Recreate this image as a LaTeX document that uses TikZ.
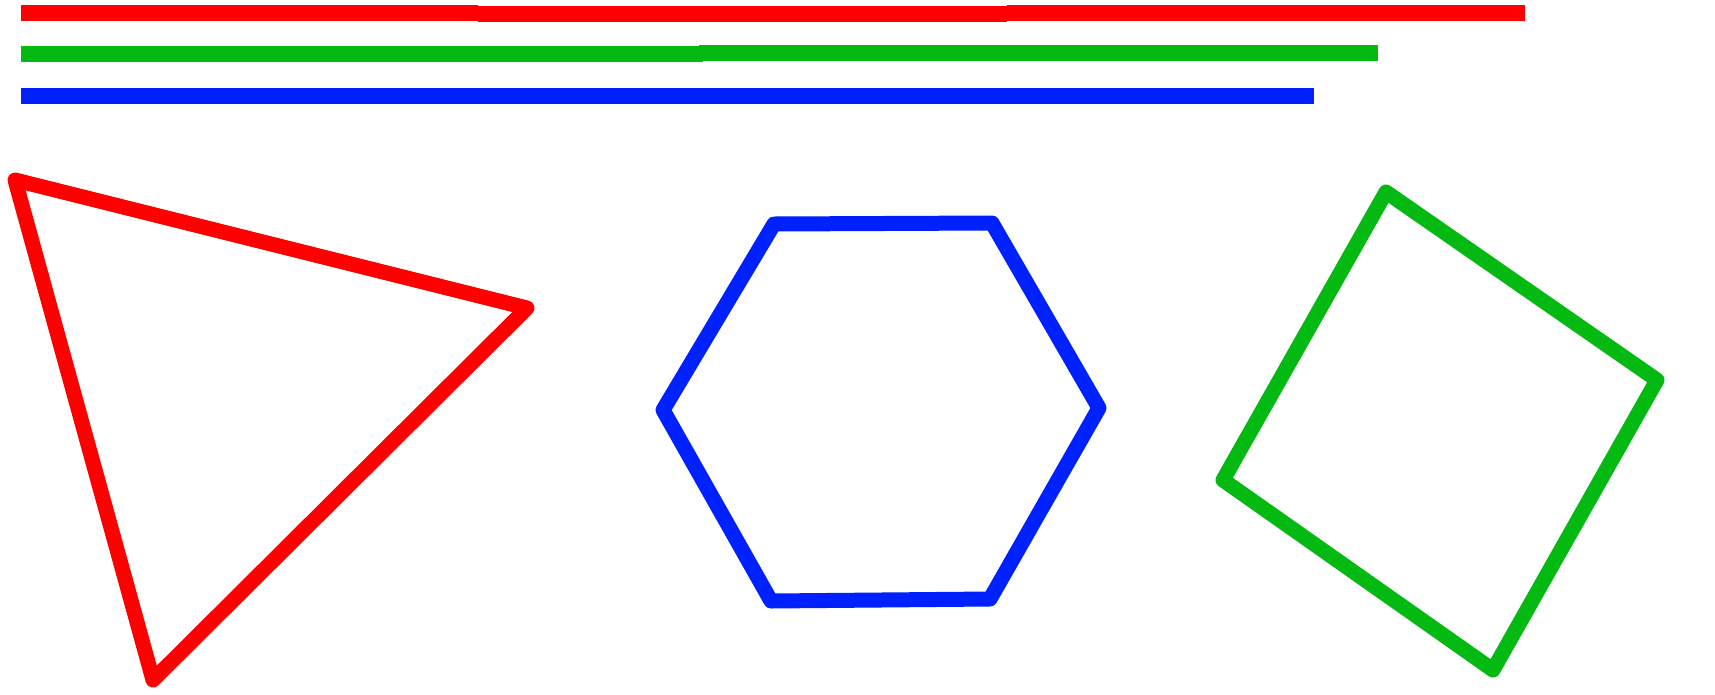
\documentclass[tikz,border=0pt]{standalone}
\usepackage{xcolor}
\definecolor{TriRed}{HTML}{FF0000}
\definecolor{QuadGreen}{HTML}{04BA12}
\definecolor{HexBlue}{HTML}{0021FF}
\tikzset{
  barseg/.style={
    line width=16pt,
    line cap=butt,
  },
  outline/.style={
    line width=15pt,
    line join=round,
    line cap=round,
  }
}
\begin{document}
\begin{tikzpicture}[x=1pt,y=-1pt]
  \useasboundingbox (0,0) rectangle (1715,694);

  % red bar
  \draw[barseg,draw=TriRed] (21,13) -- (478,13);
  \draw[barseg,draw=TriRed] (478,13.7) -- (1007,13.7);
  \draw[barseg,draw=TriRed] (1007,13) -- (1525,13);

  % green bar
  \draw[barseg,draw=QuadGreen] (21,54) -- (703,54);
  \draw[barseg,draw=QuadGreen] (699,52.7) -- (1007,52.7);
  \draw[barseg,draw=QuadGreen] (1007,53) -- (1378,53);

  % blue bar
  \draw[barseg,draw=HexBlue] (21,96) -- (214,96);
  \draw[barseg,draw=HexBlue] (214,96) -- (406,96);
  \draw[barseg,draw=HexBlue] (406,96) -- (670,96);
  \draw[barseg,draw=HexBlue] (670,96) -- (863,96);
  \draw[barseg,draw=HexBlue] (863,96) -- (1056,96);
  \draw[barseg,draw=HexBlue] (1056,96) -- (1126,96);
  \draw[barseg,draw=HexBlue] (1126,96) -- (1314,96);

  % triangle
  \coordinate (ta) at (15,180);
  \coordinate (tb) at (527,308);
  \coordinate (tc) at (153,680);
  \draw[outline,draw=TriRed] (ta) -- (tb) -- (tc) -- cycle;

  % hexagon
  \coordinate (ha) at (663,410);
  \coordinate (hb) at (774,224);
  \coordinate (hc) at (992,223);
  \coordinate (hd) at (1099,408);
  \coordinate (he) at (990,599);
  \coordinate (hf) at (771,601);
  \draw[outline,draw=HexBlue] (ha) -- (hb) -- (hc) -- (hd) -- (he) -- (hf) -- cycle;

  % square
  \coordinate (qa) at (1386,192);
  \coordinate (qb) at (1657,380);
  \coordinate (qc) at (1493,670);
  \coordinate (qd) at (1223,480);
  \draw[outline,draw=QuadGreen] (qa) -- (qb) -- (qc) -- (qd) -- cycle;
\end{tikzpicture}
\end{document}
